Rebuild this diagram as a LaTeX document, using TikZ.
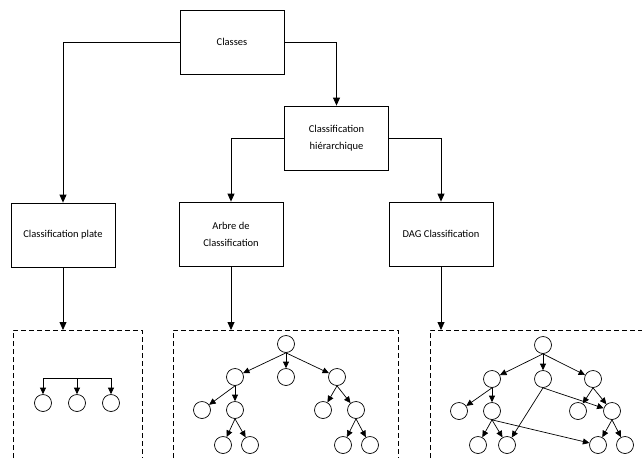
\documentclass[tikz,border=0pt]{standalone}
\usepackage{fontspec}
\setmainfont{Carlito}
\usetikzlibrary{arrows.meta}
\tikzset{
	box/.style={draw,line width=0.8pt,minimum width=104pt,minimum height=64pt,align=center,
		inner sep=2pt,font=\fontsize{10.5}{17}\selectfont},
	leaf/.style={draw,circle,line width=0.7pt,minimum size=17pt,inner sep=0pt},
	arr/.style={line width=0.8pt,-{Triangle[length=8pt,width=7pt]}},
	tip/.style={line width=0.7pt,-{Triangle[length=6.5pt,width=6pt]}},
	frame/.style={line width=0.8pt,dash pattern=on 5pt off 3pt}
}
\begin{document}
\begin{tikzpicture}[x=1pt,y=-1pt]
	\useasboundingbox (0,0) rectangle (642,458);
	% boxes
	\node[box] (classes) at (232,42) {Classes};
	\node[box] (hier) at (336.5,138) {Classification\\hiérarchique};
	\node[box] (plate) at (63,235) {Classification plate};
	\node[box] (arbre) at (231,234) {Arbre de\\Classification};
	\node[box] (dag) at (441,234) {DAG Classification};
	\draw[arr] (classes.west) -| (plate.north);
	\draw[arr] (classes.east) -| (hier.north);
	\draw[arr] (hier.west) -| (arbre.north);
	\draw[arr] (hier.east) -| (dag.north);
	% dashed frames
	\coordinate (pin) at (63,330);
	\coordinate (ain) at (231,330);
	\coordinate (din) at (441,330);
	\draw[arr] (plate.south) -- (pin);
	\draw[arr] (arbre.south) -- (ain);
	\draw[arr] (dag.south) -- (din);
	\draw[frame] (13,458) |- (142,330) -- (142,458);
	\draw[frame] (173,458) |- (398,330) -- (398,458);
	\draw[frame] (430,458) |- (642,330);
	% flat
	\node[leaf] (f1) at (43,403) {};
	\node[leaf] (f2) at (77,403) {};
	\node[leaf] (f3) at (111,403) {};
	\coordinate (fbar) at (77,378);
	\draw[line width=0.7pt] (fbar -| f1) -- (fbar -| f3);
	\foreach \n in {f1,f2,f3}
		\draw[tip] (fbar -| \n) -- (\n);
	% tree
	\node[leaf] (t0) at (286,344) {};
	\node[leaf] (t1) at (235,377) {};
	\node[leaf] (t2) at (286,377) {};
	\node[leaf] (t3) at (337,377) {};
	\node[leaf] (t4) at (202,410) {};
	\node[leaf] (t5) at (235,410) {};
	\node[leaf] (t6) at (323,410) {};
	\node[leaf] (t7) at (356,410) {};
	\node[leaf] (t8) at (223,445) {};
	\node[leaf] (t9) at (250,445) {};
	\node[leaf] (t10) at (343,445) {};
	\node[leaf] (t11) at (370,445) {};
	\foreach \a/\b in {t0/t1,t0/t2,t0/t3,t1/t4,t1/t5,t3/t6,t3/t7,t5/t8,t5/t9,t7/t10,t7/t11}
		\draw[tip] (\a.south) -- (\b);
	% dag
	\node[leaf] (d0) at (543,345) {};
	\node[leaf] (d1) at (492,379) {};
	\node[leaf] (d2) at (543,379) {};
	\node[leaf] (d3) at (593,379) {};
	\node[leaf] (d4) at (459,411) {};
	\node[leaf] (d5) at (492,411) {};
	\node[leaf] (d6) at (578,411) {};
	\node[leaf] (d7) at (612,411) {};
	\node[leaf] (d8) at (478,445) {};
	\node[leaf] (d9) at (507,445) {};
	\node[leaf] (d10) at (598,445) {};
	\node[leaf] (d11) at (625,445) {};
	\foreach \a/\b in {d0/d1,d0/d2,d0/d3,d1/d4,d1/d5,d2/d9,d2/d7,d3/d6,d3/d7,d5/d8,d5/d9,d5/d10,d7/d10,d7/d11}
		\draw[tip] (\a.south) -- (\b);
\end{tikzpicture}
\end{document}
